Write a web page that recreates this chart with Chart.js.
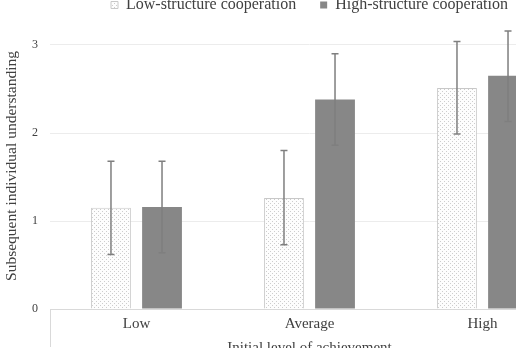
<!DOCTYPE html>
<html>
<head>
<meta charset="utf-8">
<script src="https://cdn.jsdelivr.net/npm/chart.js@4.4.0/dist/chart.umd.min.js"></script>
<style>
  html, body { margin: 0; padding: 0; background: #fff; overflow: hidden; }
  #wrap { width: 516px; height: 348px; overflow: hidden; position: relative; }
  #chartBox { position: absolute; left: 0; top: -27px; width: 622px; height: 384px; }
</style>
</head>
<body>
<div id="wrap"><div id="chartBox"><canvas id="barChart" width="622" height="384"></canvas></div></div>
<script>
const categories = ["Low", "Average", "High"];
const seriesNames = ["Low-structure cooperation", "High-structure cooperation"];
const lowStructure = [1.15, 1.26, 2.51];
const highStructure = [1.16, 2.38, 2.65];
const lowStructureErr = [[0.62, 1.68], [0.73, 1.80], [1.99, 3.04]];
const highStructureErr = [[0.64, 1.68], [1.86, 2.90], [2.13, 3.16]];
const yTicks = [0, 1, 2, 3];

const serif = "'Liberation Serif', 'DejaVu Serif', serif";

// dotted fill for the low-structure bars
function dotPattern() {
  const c = document.createElement("canvas");
  c.width = 4;
  c.height = 4;
  const g = c.getContext("2d");
  g.fillStyle = "#fdfdfd";
  g.fillRect(0, 0, 4, 4);
  g.fillStyle = "#cdcdcd";
  g.fillRect(0, 0, 1, 1);
  g.fillRect(2, 2, 1, 1);
  return g.createPattern(c, "repeat");
}

const errorBars = {
  id: "errorBars",
  afterDatasetsDraw(chart) {
    const ctx = chart.ctx;
    const y = chart.scales.y;
    const errs = [lowStructureErr, highStructureErr];
    ctx.save();
    ctx.strokeStyle = "#7f7f7f";
    ctx.lineWidth = 1.5;
    chart.data.datasets.forEach((ds, di) => {
      chart.getDatasetMeta(di).data.forEach((bar, i) => {
        const lo = y.getPixelForValue(errs[di][i][0]);
        const hi = y.getPixelForValue(errs[di][i][1]);
        ctx.beginPath();
        ctx.moveTo(bar.x, lo);
        ctx.lineTo(bar.x, hi);
        ctx.moveTo(bar.x - 3.5, lo);
        ctx.lineTo(bar.x + 3.5, lo);
        ctx.moveTo(bar.x - 3.5, hi);
        ctx.lineTo(bar.x + 3.5, hi);
        ctx.stroke();
      });
    });
    ctx.restore();
  },
};

new Chart(document.getElementById("barChart").getContext("2d"), {
  type: "bar",
  data: {
    labels: categories,
    datasets: [
      {
        label: seriesNames[0],
        data: lowStructure,
        backgroundColor: dotPattern(),
        borderColor: "#c8c8c8",
        borderWidth: 1,
        categoryPercentage: 0.59,
        barPercentage: 0.78,
      },
      {
        label: seriesNames[1],
        data: highStructure,
        backgroundColor: "#878787",
        borderColor: "#878787",
        borderWidth: 0,
        categoryPercentage: 0.59,
        barPercentage: 0.78,
      },
    ],
  },
  options: {
    responsive: false,
    animation: false,
    layout: { padding: { left: 0, right: 53, top: 0, bottom: 0 } },
    scales: {
      x: {
        afterFit: (s) => { s.height = 48; },
        grid: {
          drawOnChartArea: false,
          tickLength: 38,
          color: (c) => (c.index === 0 ? "#d9d9d9" : "rgba(0,0,0,0)"),
        },
        border: { display: true, color: "#d9d9d9" },
        ticks: {
          color: "#404040",
          padding: -32,
          font: { family: serif, size: 15 },
        },
        title: {
          display: true,
          text: "Initial level of achievement",
          color: "#404040",
          padding: { top: 0, bottom: 0 },
          font: { family: serif, size: 15 },
        },
      },
      y: {
        min: 0,
        max: 3.25,
        afterFit: (s) => { s.width = 50; },
        grid: {
          drawTicks: false,
          color: (c) => (yTicks.includes(c.tick.value) && c.tick.value !== 0 ? "#ececec" : "rgba(0,0,0,0)"),
        },
        border: { display: false },
        ticks: {
          stepSize: 1,
          padding: 12,
          color: "#404040",
          font: { family: serif, size: 12 },
          callback: (v) => (yTicks.includes(v) ? v : ""),
        },
        title: {
          display: true,
          text: "Subsequent individual understanding",
          color: "#404040",
          padding: { top: 3, bottom: 0 },
          font: { family: serif, size: 15.5 },
        },
      },
    },
    plugins: {
      legend: {
        position: "top",
        fullSize: false,
        labels: {
          color: "#404040",
          boxWidth: 7,
          boxHeight: 7,
          padding: 24,
          font: { family: serif, size: 16 },
        },
      },
      tooltip: { enabled: false },
    },
  },
  plugins: [errorBars],
});
</script>
</body>
</html>
